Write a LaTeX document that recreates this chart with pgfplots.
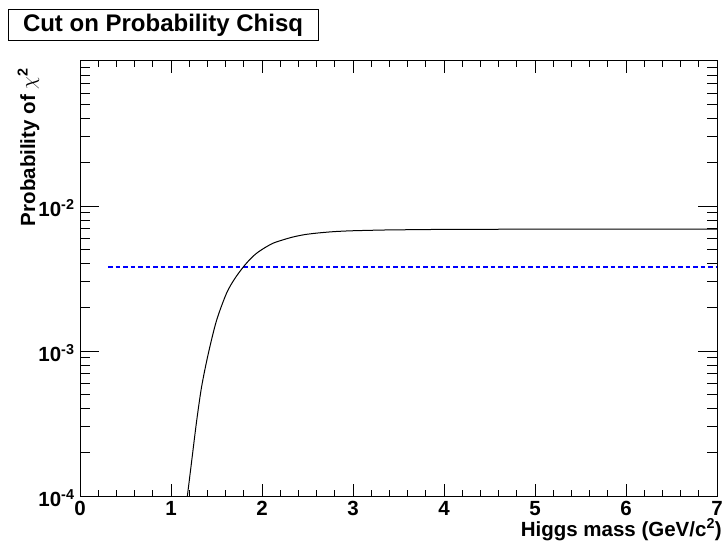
\documentclass[border=0pt]{standalone}
\usepackage{pgfplots}
\pgfplotsset{compat=1.18}
\usepackage{fontspec}
\setmainfont{Liberation Sans}
\newcommand{\tickfont}{\fontsize{20.5bp}{21bp}\selectfont\bfseries}
\begin{document}
\begin{tikzpicture}
\useasboundingbox (0,0) rectangle (726bp,548bp);
% axis 1: x ticks
\begin{axis}[
  at={(80bp,52bp)}, anchor=south west,
  scale only axis, width=637bp, height=435bp,
  xmin=0, xmax=7, ymin=0, ymax=1,
  axis line style={line width=1bp},
  xtick={0,1,2,3,4,5,6,7},
  xticklabels={0,1,2,3,4,5,6,7},
  minor x tick num=4,
  ytick=\empty,
  major tick length=12bp, minor tick length=6bp,
  tick style={line width=0.8bp, black},
  tick align=inside,
  xtick pos=both,
  ticklabel style={font=\tickfont},
  xticklabel style={anchor=base, inner sep=0pt, yshift=-19bp},
]
\end{axis}
% axis 2: y ticks and data
\begin{axis}[
  at={(80bp,52bp)}, anchor=south west,
  scale only axis, width=637bp, height=435bp,
  xmin=0, xmax=7, ymin=1e-4, ymax=1e-1, ymode=log,
  axis line style={line width=1bp},
  xtick=\empty,
  ytick={1e-4,1e-3,1e-2},
  yticklabels={10\textsuperscript{-4},10\textsuperscript{-3},10\textsuperscript{-2}},
  minor ytick={2e-4,3e-4,4e-4,5e-4,6e-4,7e-4,8e-4,9e-4,2e-3,3e-3,4e-3,5e-3,6e-3,7e-3,8e-3,9e-3,2e-2,3e-2,4e-2,5e-2,6e-2,7e-2,8e-2,9e-2},
  major tick length=19bp, minor tick length=10bp,
  tick style={line width=0.8bp, black},
  tick align=inside,
  ytick pos=both,
  ticklabel style={font=\tickfont},
  yticklabel style={xshift=-2bp, yshift=-2bp},
  clip=true,
]
\addplot[blue, line width=2bp, dash pattern=on 4.5bp off 3bp] coordinates {(0.31,3.8e-3) (7,3.8e-3)};
\addplot[black, line width=1bp, smooth, tension=0.5] coordinates {
(1.18,1.0e-4) (1.23,1.8e-4) (1.282,3.3e-4) (1.337,5.7e-4) (1.41,9.6e-4)
(1.50,1.62e-3) (1.61,2.5e-3) (1.70,3.15e-3) (1.795,3.8e-3) (1.87,4.3e-3)
(1.94,4.72e-3) (2.03,5.15e-3) (2.125,5.55e-3) (2.234,5.85e-3) (2.344,6.12e-3)
(2.47,6.35e-3) (2.60,6.5e-3) (2.78,6.65e-3) (2.967,6.74e-3) (3.2,6.8e-3)
(3.4,6.84e-3) (3.7,6.87e-3) (4.07,6.9e-3) (5.0,6.92e-3) (6.0,6.93e-3) (7.0,6.93e-3)};
\end{axis}
% title box
\draw[line width=1bp] (8bp,507bp) rectangle (318bp,538bp);
\node[inner sep=0pt, font=\fontsize{24bp}{25bp}\selectfont\bfseries] at (163bp,522.5bp) {Cut on Probability Chisq};
% x label
\node[inner sep=0pt, anchor=base east, font=\fontsize{20.5bp}{21bp}\selectfont\bfseries] at (722bp,12bp) {Higgs mass (GeV/c\textsuperscript{2})};
% y label
\node[inner sep=0pt, anchor=base east, rotate=90, font=\fontsize{20.5bp}{21bp}\selectfont\bfseries] at (35bp,480bp) {Probability of $\chi$\textsuperscript{2}};
\end{tikzpicture}
\end{document}
